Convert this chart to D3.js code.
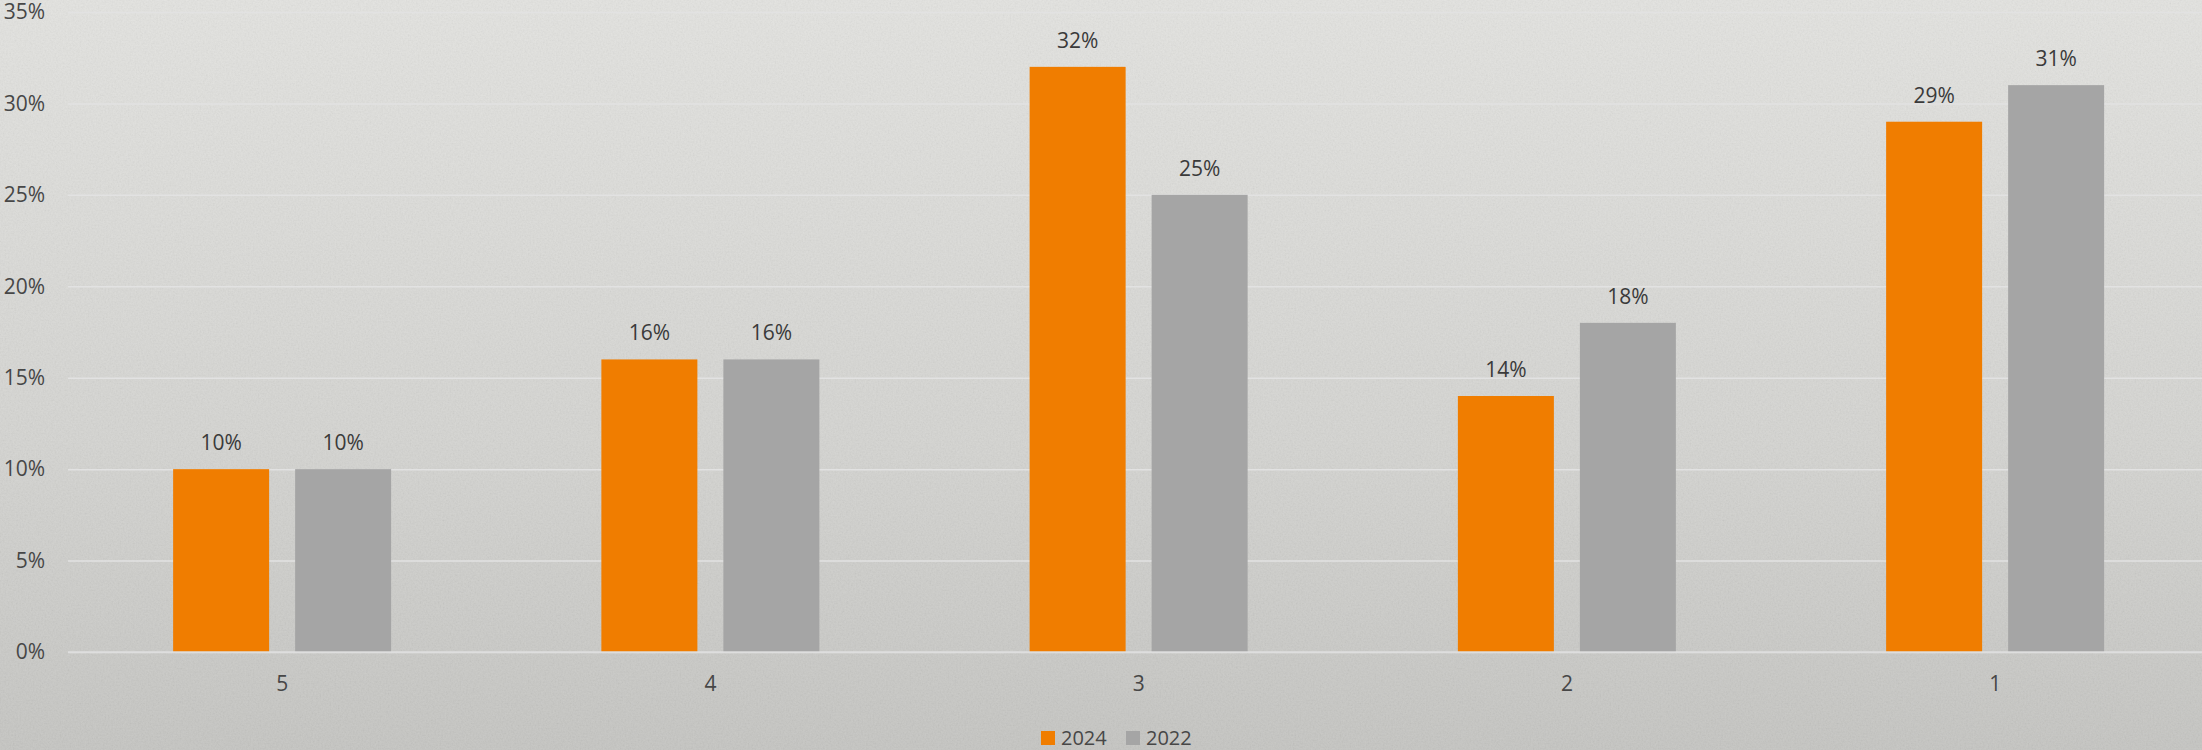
<!DOCTYPE html>
<html>
<head>
<meta charset="utf-8">
<script src="https://cdn.jsdelivr.net/npm/d3@7"></script>
<style>
  body { margin: 0; overflow: hidden; }
  svg { display: block; font-family: "Open Sans", "Noto Sans", sans-serif; }
</style>
</head>
<body>
<svg id="chart" width="2202" height="750"></svg>
<script>
// data
var categories = ["5", "4", "3", "2", "1"];
var seriesNames = ["2024", "2022"];
var values2024 = [10, 16, 32, 14, 29];
var values2022 = [10, 16, 25, 18, 31];
var yTicks = [0, 5, 10, 15, 20, 25, 30, 35];
var colors = ["#F07D00", "#A5A5A5"];

var svg = d3.select("#chart"),
  width = +svg.attr("width"),
  height = +svg.attr("height");

var margin = { top: 12, left: 68, bottom: 98 };
var font = '"Open Sans", "Noto Sans", sans-serif';

// background: grey gradient with a faint paper grain
var defs = svg.append("defs");
var grad = defs.append("linearGradient")
  .attr("id", "bg").attr("x1", 0).attr("y1", 0).attr("x2", 0).attr("y2", 1);
grad.append("stop").attr("offset", "0%").attr("stop-color", "#E3E3E0");
grad.append("stop").attr("offset", "60%").attr("stop-color", "#D4D4D1");
grad.append("stop").attr("offset", "100%").attr("stop-color", "#C5C5C2");

var filt = defs.append("filter").attr("id", "noise")
  .attr("x", 0).attr("y", 0).attr("width", "100%").attr("height", "100%");
filt.append("feTurbulence").attr("type", "fractalNoise")
  .attr("baseFrequency", "0.6").attr("numOctaves", 3).attr("seed", 3);
filt.append("feColorMatrix").attr("type", "matrix")
  .attr("values", "1 0 0 0 0  1 0 0 0 0  1 0 0 0 0  0 0 0 0 1");

svg.append("rect").attr("width", width).attr("height", height).attr("fill", "url(#bg)");
svg.append("rect").attr("width", width).attr("height", height)
  .attr("filter", "url(#noise)").attr("opacity", 0.07);

var x0 = d3.scaleBand()
  .domain(categories)
  .range([margin.left, margin.left + 5 * 428.25])
  .paddingInner(0).paddingOuter(0);

var barW = 96, barGap = 26;
var x1 = d3.scaleOrdinal()
  .domain(seriesNames)
  .range([-(barW + barGap / 2), barGap / 2]);

var y = d3.scaleLinear()
  .domain([0, 35])
  .range([652, margin.top]);

// gridlines
var yAxis = d3.axisLeft(y)
  .tickValues(yTicks)
  .tickSize(-(width - margin.left))
  .tickPadding(23)
  .tickFormat(function(d) { return d + "%"; });

var gy = svg.append("g")
  .attr("transform", "translate(" + margin.left + ",0)")
  .call(yAxis)
  .attr("font-family", font);
gy.select(".domain").remove();
gy.selectAll(".tick line").attr("stroke", "#E2E2E2").attr("stroke-width", 1.5);
gy.selectAll(".tick text")
  .attr("fill", "#474747")
  .style("font-size", "21px");

var seriesData = [values2024, values2022];

var groups = svg.append("g").selectAll("g")
  .data(categories)
  .join("g")
  .attr("transform", function(d) { return "translate(" + (x0(d) + x0.bandwidth() / 2) + ",0)"; });

groups.selectAll("rect")
  .data(function(d, i) {
    return seriesNames.map(function(s, k) { return { key: s, value: seriesData[k][i], k: k }; });
  })
  .join("rect")
  .attr("x", function(d) { return x1(d.key); })
  .attr("y", function(d) { return y(d.value); })
  .attr("width", barW)
  .attr("height", function(d) { return y(0) - y(d.value); })
  .attr("fill", function(d) { return colors[d.k]; });

groups.selectAll("text.lbl")
  .data(function(d, i) {
    return seriesNames.map(function(s, k) { return { key: s, value: seriesData[k][i], k: k }; });
  })
  .join("text")
  .attr("class", "lbl")
  .attr("x", function(d) { return x1(d.key) + barW / 2; })
  .attr("y", function(d) { return y(d.value) - 19; })
  .attr("text-anchor", "middle")
  .attr("fill", "#3A3A3A")
  .style("font-size", "21px")
  .text(function(d) { return d.value + "%"; });

// baseline
svg.append("line")
  .attr("x1", margin.left).attr("x2", width)
  .attr("y1", y(0)).attr("y2", y(0))
  .attr("stroke", "#DCDCDC").attr("stroke-width", 1.5);

// category axis
var xAxis = d3.axisBottom(x0).tickSize(0).tickPadding(24);
var gx = svg.append("g")
  .attr("transform", "translate(0," + y(0) + ")")
  .call(xAxis)
  .attr("font-family", font);
gx.select(".domain").remove();
gx.selectAll(".tick text")
  .attr("fill", "#474747")
  .style("font-size", "21px");

// legend
var legendX = [1041, 1126];
var legend = svg.append("g").selectAll("g")
  .data(seriesNames)
  .join("g")
  .attr("transform", function(d, i) { return "translate(" + legendX[i] + ",731)"; });
legend.append("rect")
  .attr("width", 14).attr("height", 14)
  .attr("fill", function(d, i) { return colors[i]; });
legend.append("text")
  .attr("x", 20).attr("y", 14)
  .attr("fill", "#474747")
  .style("font-size", "20px")
  .text(function(d) { return d; });
</script>
</body>
</html>
